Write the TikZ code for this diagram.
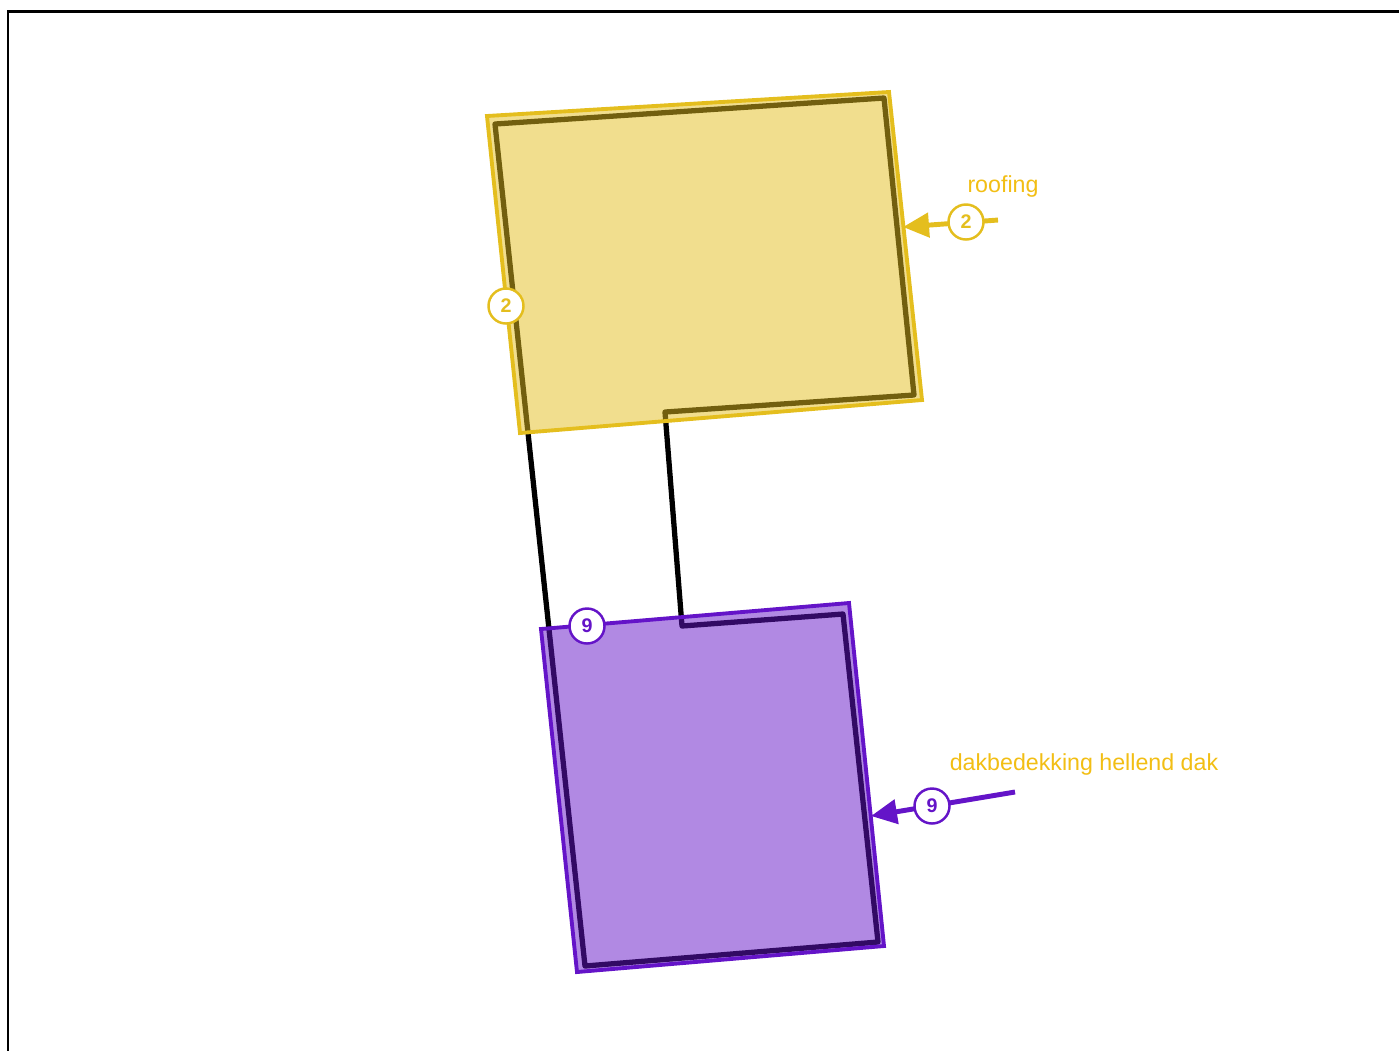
\documentclass[tikz,border=0pt]{standalone}
\usepackage{fontspec}
\setmainfont{Liberation Sans}
\usepackage{xcolor}
\usetikzlibrary{arrows.meta}
\definecolor{roofyellow}{RGB}{228,190,30}
\definecolor{roofpurple}{RGB}{100,20,200}
\definecolor{labelorange}{RGB}{242,190,20}
\tikzstyle{every node}=[font=\small]
\tikzstyle{outline} = [draw=black, line width=1.5pt, line join=round]
\tikzstyle{area} = [line width=1.1pt, fill opacity=0.5, line join=miter]
\tikzstyle{badge} = [circle, draw, fill=white, line width=0.7pt, minimum size=0.35cm, inner sep=0pt, font=\fontsize{5.6}{6}\selectfont\bfseries]
\tikzstyle{pointer} = [draw, line width=1.4pt, -{Triangle[length=0.26cm,width=0.24cm]}]
\tikzstyle{caption} = [text=labelorange, font=\fontsize{6.6}{8}\selectfont]

\begin{document}
\begin{tikzpicture}[x=0.01cm, y=-0.01cm]
    \useasboundingbox (0,0) rectangle (1399,1050);
    \draw [line width=0.85pt] (8,1080) -- (8,11) -- (1420,11);
    % Footprint
    \path [outline] (495,124) -- (585,966) -- (878,942) -- (843,614) -- (682,626)
        -- (665,412) -- (914,395) -- (884,98) -- cycle;
    % Roof areas
    \path [area, draw=roofyellow, fill=roofyellow] (487,116) -- (889,92) -- (922,400) -- (520,433) -- cycle;
    \path [area, draw=roofpurple, fill=roofpurple] (541,629) -- (849,603) -- (884,946) -- (577,972) -- cycle;
    % Pointers
    \coordinate (tail2) at (998,220);
    \coordinate (tip2) at (903,227);
    \coordinate (tail9) at (1015,792);
    \coordinate (tip9) at (871,816);
    \path [pointer, roofyellow] (tail2) -- (tip2);
    \path [pointer, roofpurple] (tail9) -- (tip9);
    % Badges
    \node [badge, draw=roofyellow, text=roofyellow] (side2) at (506,306) {2};
    \node [badge, draw=roofyellow, text=roofyellow] (tag2) at (966,222) {2};
    \node [badge, draw=roofpurple, text=roofpurple] (side9) at (587,626) {9};
    \node [badge, draw=roofpurple, text=roofpurple] (tag9) at (932,806) {9};
    % Labels
    \node [caption] (roofing) at (1003,186) {roofing};
    \node [caption] (pitched) at (1084,764) {dakbedekking hellend dak};
\end{tikzpicture}
\end{document}
